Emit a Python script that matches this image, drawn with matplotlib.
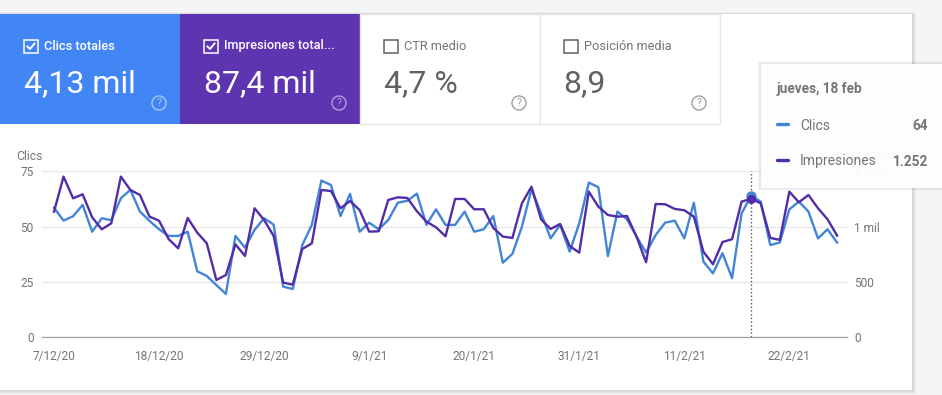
import matplotlib
matplotlib.use('Agg')
import matplotlib.pyplot as plt
from matplotlib.patches import Rectangle, Circle
import numpy as np

plt.rcParams['font.family'] = ['Roboto', 'DejaVu Sans']

# Datos (un valor por dia, del 7/12/20 al 27/2/21)
clics = [58.6, 52.7, 54.7, 59.8, 47.7, 53.8, 52.9, 62.8, 66.6, 56.8,
         52.6, 48.8, 45.8, 45.8, 47.7, 29.8, 27.7, 23.6, 19.6, 45.8,
         40.5, 48.5, 53.8, 50.9, 22.9, 21.8, 41.7, 50.8, 70.8, 68.8,
         54.8, 64.8, 47.7, 51.8, 48.8, 53.0, 60.8, 61.7, 64.9, 50.8,
         57.8, 50.8, 50.8, 56.8, 47.7, 48.8, 54.8, 33.7, 37.7, 50.0,
         66.9, 56.0, 44.7, 50.8, 38.7, 51.5, 69.9, 67.8, 36.7, 56.8,
         53.3, 45.5, 38.3, 46.2, 51.8, 52.7, 44.7, 60.8, 34.2, 28.9,
         38.0, 26.7, 56.0, 64.0, 61.3, 41.7, 42.8, 57.8, 61.3, 56.8,
         44.7, 48.8, 42.8]
impresiones = [1135, 1452, 1256, 1292, 1084, 976, 1030, 1452, 1331, 1286,
               1090, 1054, 888, 804, 1078, 946, 849, 518, 563, 840,
               735, 1166, 1060, 916, 494, 476, 798, 849, 1331, 1322,
               1166, 1232, 1150, 955, 958, 1241, 1265, 1259, 1139, 1045,
               994, 913, 1250, 1250, 1157, 1157, 988, 910, 898, 1211,
               1361, 1066, 979, 1024, 825, 765, 1316, 1181, 1105, 1090,
               1096, 910, 678, 1205, 1202, 1160, 1148, 1090, 774, 660,
               861, 886, 1226, 1252, 1211, 898, 880, 1316, 1220, 1286,
               1166, 1066, 919]
fechas = ['7/12/20', '18/12/20', '29/12/20', '9/1/21', '20/1/21', '31/1/21', '11/2/21', '22/2/21']
ticks_x = [0, 11, 22, 33, 44, 55, 66, 77]
ticks_izq = [0, 25, 50, 75]
ticks_der = [0, 500, 1000, 1500]
etiquetas_der = ['0', '500', '1 mil', '1,5 mil']
dia_marcado = 73

tarjetas = ['Clics totales', 'Impresiones total...', 'CTR medio', 'Posición media']
valores = ['4,13 mil', '87,4 mil', '4,7 %', '8,9']

AZUL = '#4285f4'
MORADO = '#5e35b1'
LINEA_AZUL = '#4285d6'
LINEA_MORADA = '#512da8'
GRIS = '#757575'

W, H = 942, 395
fig = plt.figure(figsize=(W / 100, H / 100), dpi=100, facecolor='#f5f5f5')

# Fondo y tarjetas, en coordenadas de pixel
fondo = fig.add_axes([0, 0, 1, 1], zorder=0)
fondo.set_xlim(0, W)
fondo.set_ylim(H, 0)
fondo.axis('off')
for i in range(5):
    fondo.add_patch(Rectangle((0, 14 - i * 0.5), 912 + i, 376 + i * 1.5, color='black', alpha=0.03, lw=0))
fondo.add_patch(Rectangle((0, 14), 912, 376, color='white', lw=0))


def pregunta(ax, cx, color):
    ax.add_patch(Circle((cx, 103), 7, fill=False, ec=color, lw=1))
    ax.text(cx, 103.3, '?', color=color, fontsize=7.5, ha='center', va='center')


for i in range(4):
    x0 = 180 * i
    activa = i < 2
    if activa:
        fondo.add_patch(Rectangle((x0, 14), 180, 110, color=[AZUL, MORADO][i], lw=0))
    else:
        fondo.add_patch(Rectangle((x0 - 0.5, 14), 180, 110, fc='white', ec='#e6e6e6', lw=1))
    color_txt = 'white' if activa else GRIS
    color_box = 'white' if activa else '#616161'
    fondo.add_patch(Rectangle((x0 + 24, 39.5), 13.5, 13.5, fill=False, ec=color_box, lw=1.1))
    if activa:
        fondo.plot([x0 + 27.5, x0 + 30, x0 + 34.5], [46.5, 49, 43.5], color='white', lw=1.4)
    fondo.text(x0 + 44, 46, tarjetas[i], color=color_txt, fontsize=9.2, va='center',
               weight='medium' if activa else 'normal')
    fondo.text(x0 + 23.5, 92, valores[i], color='white' if activa else '#616161', fontsize=23, va='baseline')
    pregunta(fondo, x0 + 159, '#a8c7fa' if i == 0 else '#b39ddb' if i == 1 else '#9e9e9e')

# Grafico
ax = fig.add_axes([42 / W, 1 - 337.3 / H, 805 / W, 166 / H], zorder=1)
ax.patch.set_alpha(0)
ax.set_xlim(-12 / 9.55, 793 / 9.55)
ax.set_ylim(0, 75)
dias = np.arange(len(clics))
ax.plot(dias, clics, color=LINEA_AZUL, lw=1.7, zorder=3)
ax.set_xticks(ticks_x)
ax.set_xticklabels(fechas)
ax.set_yticks(ticks_izq)
ax.grid(axis='y', color='#e8e8e8', lw=1)
ax.set_axisbelow(True)
ax.axvline(dia_marcado, color='#555555', lw=1, ls=':', zorder=2)
ax.tick_params(length=0, labelsize=8.6, labelcolor=GRIS)
ax.tick_params(axis='x', pad=9)
ax.tick_params(axis='y', pad=6)
# estas dos etiquetas van en el grafico para que el tooltip tape la de la derecha
ax.text(16 / W, 1 - 156 / H, 'Clics', color=GRIS, fontsize=8.8, va='center', transform=fig.transFigure)
ax.text(830 / W, 1 - 156 / H, 'Impresiones', color=GRIS, fontsize=8.8, va='center', transform=fig.transFigure)

ax2 = ax.twinx()
ax2.set_ylim(0, 1500)
ax2.plot(dias, impresiones, color=LINEA_MORADA, lw=1.7, zorder=2)
ax2.plot(dia_marcado, clics[dia_marcado] * 20, 'o', color=LINEA_AZUL, ms=6.5, zorder=3, clip_on=False)
ax2.plot(dia_marcado, impresiones[dia_marcado], 'o', color=LINEA_MORADA, ms=5.5, zorder=4, clip_on=False)
ax2.set_yticks(ticks_der)
ax2.set_yticklabels(etiquetas_der)
ax2.tick_params(length=0, labelsize=8.6, labelcolor=GRIS, pad=5)
for a in (ax, ax2):
    for lado in ('top', 'left', 'right'):
        a.spines[lado].set_visible(False)
    a.spines['bottom'].set_color('#9e9e9e')

# Tooltip encima de todo
capa = fig.add_axes([0, 0, 1, 1], zorder=3)
capa.set_xlim(0, W)
capa.set_ylim(H, 0)
capa.axis('off')
for i in range(5):
    capa.add_patch(Rectangle((760 - i * 0.6, 63 - i * 0.4), 190, 125 + i * 1.2, color='black', alpha=0.02, lw=0))
capa.add_patch(Rectangle((761, 64), 190, 124, fc='white', alpha=0.96, lw=0))
capa.text(777, 89.5, 'jueves, 18 feb', color=GRIS, fontsize=9.8, weight='bold', va='center')
capa.plot([777, 788], [124, 124], color=LINEA_AZUL, lw=2.4, solid_capstyle='round')
capa.plot([777, 788], [160, 160], color=LINEA_MORADA, lw=2.4, solid_capstyle='round')
capa.text(800, 125.5, 'Clics', color=GRIS, fontsize=10, va='center')
capa.text(800, 161.5, 'Impresiones', color=GRIS, fontsize=10, va='center')
capa.text(928, 125.5, '64', color=GRIS, fontsize=9.8, weight='bold', ha='right', va='center')
capa.text(928, 161.5, '1.252', color=GRIS, fontsize=9.8, weight='bold', ha='right', va='center')

fig.savefig('out.png', dpi=100, facecolor=fig.get_facecolor())
